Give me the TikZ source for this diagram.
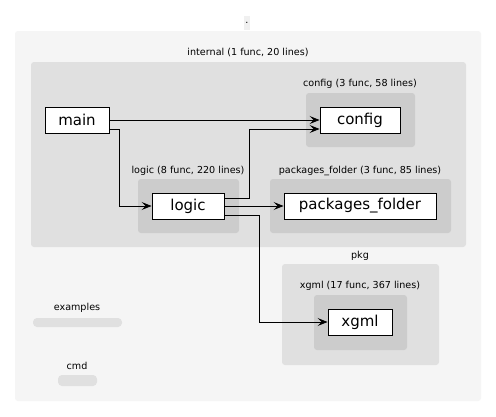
\documentclass[tikz,border=0pt]{standalone}
\usepackage{fontspec}
\setmainfont{DejaVu Sans}
\usetikzlibrary{arrows.meta}
\tikzset{
  pkgnode/.style={draw,fill=white,line width=0.9pt,inner sep=0pt,minimum height=26pt,font=\fontsize{15}{18}\selectfont},
  clabel/.style={inner sep=1pt,font=\fontsize{9.6}{11}\selectfont},
  arr/.style={line width=0.9pt,-{Stealth[length=10pt,width=8pt,inset=4pt]}},
}
\begin{document}
\begin{tikzpicture}[x=1pt,y=-1pt]
\useasboundingbox[fill=white] (0,0) rectangle (496,416);
\fill[black!4,rounded corners=3pt] (15,31) rectangle (481,401);
\fill[black!12,rounded corners=3pt] (31,62) rectangle (466,247);
\fill[black!20,rounded corners=3pt] (306,93) rectangle (415,147);
\fill[black!20,rounded corners=3pt] (138,179) rectangle (239,233);
\fill[black!20,rounded corners=3pt] (270,179) rectangle (451,233);
\fill[black!12,rounded corners=3pt] (282,264) rectangle (439,365);
\fill[black!20,rounded corners=3pt] (314,295) rectangle (407,350);
\fill[black!12,rounded corners=4pt] (33,318) rectangle (122,327);
\fill[black!12,rounded corners=4pt] (58,375) rectangle (97,386);
\node[clabel,fill=black!6,minimum width=6pt,minimum height=14pt] (root) at (247,23) {.};
\node[clabel] (internal) at (248,52) {internal (1 func, 20 lines)};
\node[clabel] (configlbl) at (360,84) {config (3 func, 58 lines)};
\node[clabel] (logiclbl) at (188,171) {logic (8 func, 220 lines)};
\node[clabel] (pkgflbl) at (360,171) {packages\_folder (3 func, 85 lines)};
\node[clabel] (pkg) at (360,256) {pkg};
\node[clabel] (xgmllbl) at (360,286) {xgml (17 func, 367 lines)};
\node[clabel] (examples) at (77,308) {examples};
\node[clabel] (cmd) at (77,366) {cmd};
\node[pkgnode,minimum width=64pt] (main) at (77,120) {main};
\node[pkgnode,minimum width=80pt] (config) at (360,120) {config};
\node[pkgnode,minimum width=72pt] (logic) at (188,206) {logic};
\node[pkgnode,minimum width=152pt] (pkgfolder) at (360,206) {packages\_folder};
\node[pkgnode,minimum width=64pt] (xgml) at (360,322) {xgml};
\path
  (main) edge[arr] (config)
  (logic) edge[arr] (pkgfolder)
;
\draw[arr] ([yshift=-9pt]main.east) -- ++(10,0) |- (logic.west);
\draw[arr] ([yshift=8pt]logic.east) -- ++(25,0) |- ([yshift=-9pt]config.west);
\draw[arr] ([yshift=-9pt]logic.east) -- ++(35,0) |- (xgml.west);
\end{tikzpicture}
\end{document}
